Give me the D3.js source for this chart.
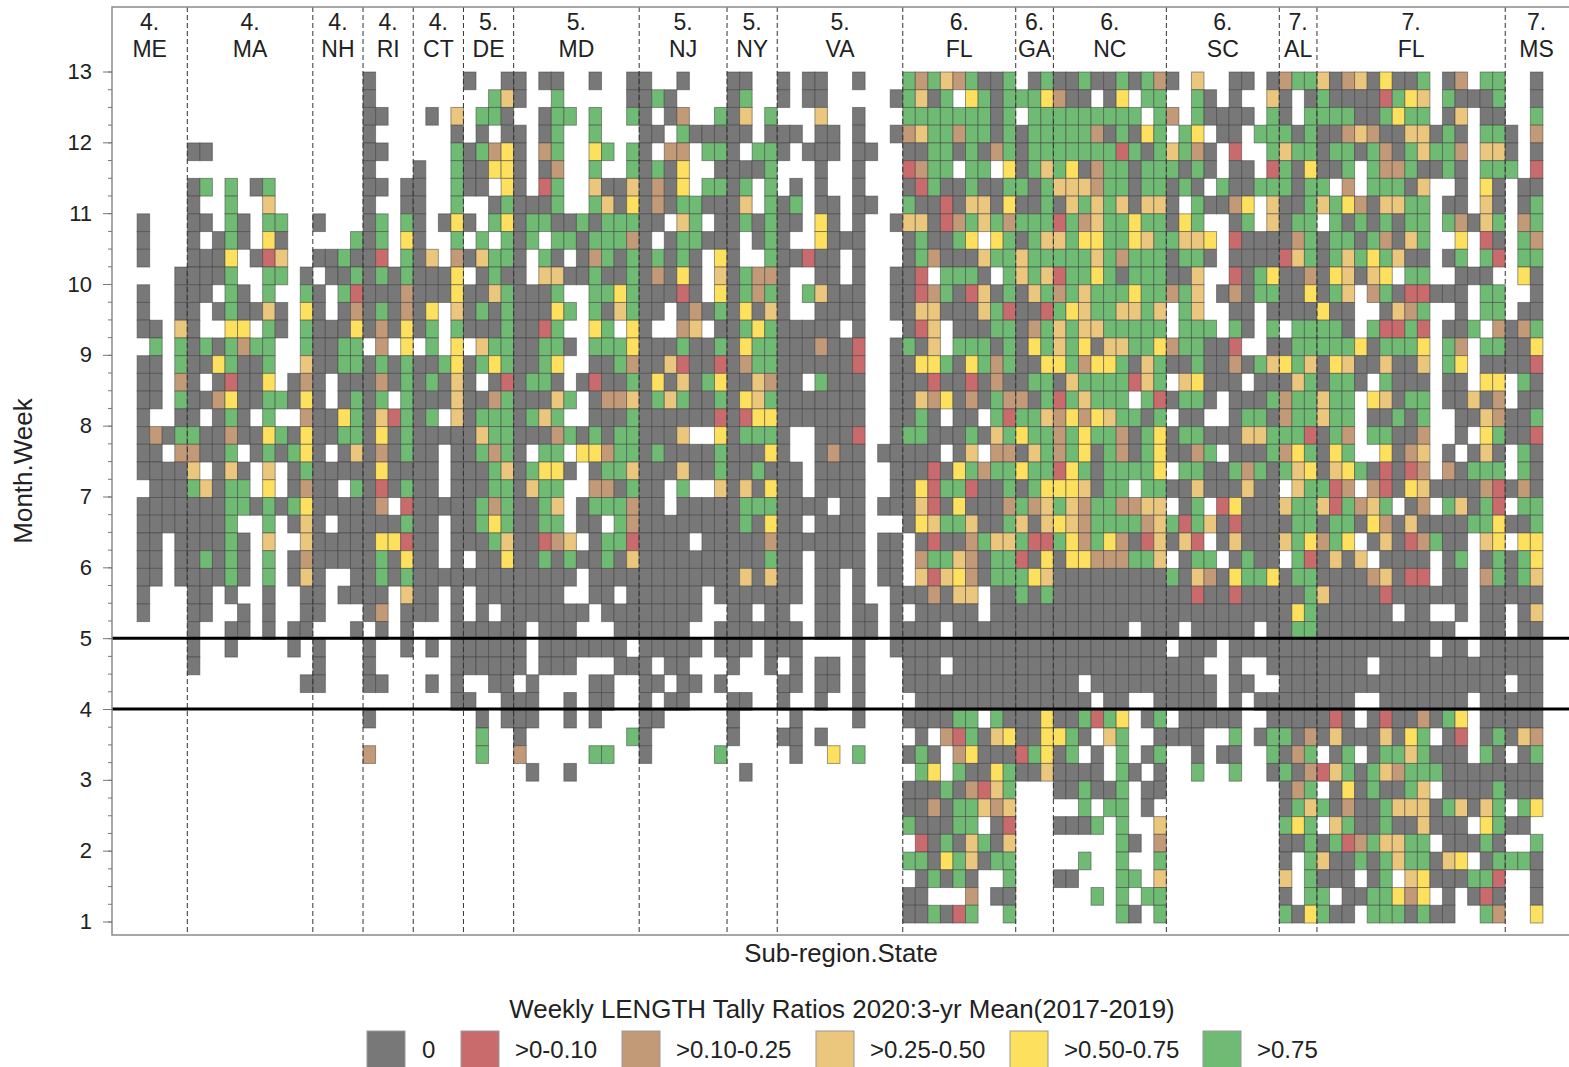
<!DOCTYPE html>
<html>
<head>
<meta charset="utf-8">
<script src="https://cdn.jsdelivr.net/npm/d3@7"></script>
<style>
  html, body { margin: 0; padding: 0; background: #fff; overflow: hidden; }
  text { font-family: "Liberation Sans", Arial, sans-serif; fill: #222; }
</style>
</head>
<body>
<div id="chart"></div>
<script>
var width = 1569, height = 1067;

// . = no data, 0-5 = index into binLabels. One string per week, top row is 13.
var groupNames = ["ME","MA","NH","RI","CT","DE","MD","NJ","NY","VA","FL","GA","NC","SC","AL","FL","MS"];
var groupRegions = ["4.","4.","4.","4.","4.","5.","5.","5.","5.","5.","6.","6.","6.","6.","7.","7.","7."];
var groupCols = [6,10,4,4,4,4,10,7,4,10,9,3,9,9,3,15,5];

var binLabels = ["0",">0-0.10",">0.10-0.25",">0.25-0.50",">0.50-0.75",">0.75"];
var binColors = ["#787878","#c96a6c","#c39a78","#ebc67d","#fde05e","#6fbb74"];
var legendX = [367,461,622,816,1010,1203];
var monthTicks = [1,2,3,4,5,6,7,8,9,10,11,12,13];
var refLines = [4,5];

// columns 2-22
var rowsA = [
"..................0..","..................0..","..................00.","..................0..",
"....00............00.","..................0..","....05.5.05.......00.","....0..5..3.......0..",
"0...00.50.55..0...05.","0...0.050.40.....505.","0...0004.013..005001.","...00005..55.0.005050",
"0..000.50.5..50.51000","0..00.050030.40.02050","00.30..44.50.50004020",".5.50505255..50055.2.",
"00.50045005..30055050","00.20.01004.020.00020","00.500240055040.0505.","0..00.050.5..20045031",
"020550020045040055040","00.22005.050540.03020","00003.030.3.050000040",".00053055.4.0200.5010",
"00000005505054000002.","00000005..5.030.00000","00.000050.3..30000044","00.005050.5.020000050",
"00.000050.5.030..0050","0...00.0..0..00.0000.","0...00..0.0..00...02.","....0..00.0.00...0.0.",
"....0..0....0.0...0..","....0.........0...0..",".............00...00.",".....................",
"..................0..",".....................","..................2..","....................."
];
// columns 23-52
var rowsB = [
".....0..00.00..0..00..0...00..",".......530..5.....0050....05..","..0.3.550..055.5..50.02..503.5","....0.0.00.05..5...00.500000.0",
"....505240.25..45.50.22.550.55",".0..500440.02..5..50504..00005","00..500.40.15..30030204.5505.5","00..5..050005..5304020550003.5",
"50.040.54055005055500.35.00505","40..5.5.505.55055520.055000.05","503.203550.50.0250505050.40..5","50004.0500.3300500502040.30522",
"2000400350005..554500010.40525","204.3050500045.503500.02050403","405.500050015..45.40..23.00545","4.5.4.35500550.555400050050455",
"5005405450054..005200310010255","505030.010550.0100504030540032","50003002500035.022305350050435","505.305550535..000500000010144",
"50000035500025050550003..40555","500.005250.55.4425505000050004","000.0005305440.055300030050050","500.000550355..220500.5..30304",
"1000005250053.0555200.00000555","500.005450055.00.5200000000504","100.0005300123.05510000.000002","400.0.004005050050300000000005",
"50000000000000.000000000000303","300.0.0000000..00.000000.00000","000.0.0.0000000.00000000..00.0","0...000000.000...000000..00000",
"0.0.000000.0000000.00000.000.0","....000000.000...000.00...0..0","..0.0..00.0....00..00.00.0....","....00..000..0.00..0.00...00..",
"......0.000..0.0...00.....0...","......5..0........50......0...","......5..2.....55..0.....5....","..........0..0.............0.."
];
// columns 53-83
var rowsC = [
"0.00..0...525325005.05005005052","0.00.....05305.4505554200.04.55","...3..0...555555505.555555555.5","00.00.0..0235525505055555205045",
"0.000.00..005505025055555551505","...0..0...1255.55.4053540255055",".0.0..0...015005005505333255055","05.00.00..500103304005035353033",
"00.40.0..0330125352555152355455","0..4000...050054.45053354455435","00100.0...052000355355555352555","0..00.0..001.5550.5353155450555",
"0.53000..0012501305035253555455","0..0000..0033000351001543553353","00000.0...013.00055025353355555","0002001..0503.55505045354033554",
"0000001..0044504525004452445035","00.5000..0001001020055035555135","0000000..0032402052205153555.51","0000000..0050.00.51553242435505",
"0..0001..0550005035455254552054","0..0200.00000.03.22035254052054","00.0000..0001045255455145055554","00.0000..0041551005054443055.55",
"0000.00.00031040002523532552233","00.0000...043553005303432555523","0000000.00.01002533511542542013","00.0000.00.25532055104044222553",
"00.00.0.00.31342055543000000000","00.00.0..0002033.00505000000000","0..00.00.0.00000.00000000000000","00.00.00.0000.00000000000000.00",
"00....0..0000000000000000000000",".0.00.0...000.00000000000000000","00.00.0...00000000000000.000000","0..0..0....00000000000000.00..0",
".0....0...000055.50004005154.05","00.0.......0.215034004450.35..0",".0..4.5...050.2400015405.0.5.05","...........54.500450030000.50.0",
"..........000502135...005005.00","..........002055323.....5.55.0.","..........500055.01...0005.5..3","...........10503503........50.2",
"..........550453055.....5..5..5","...........05050..5...00...55.3","..........00...2.00......5.5.55","..........005015..5........50.5"
];
// columns 84-113
var rowsD = [
"0.3..00.0255302304005.02.55..0","..50.0..30.0500001543.50005..0","2.50000.50.5555005455.03.00..5",".54.00.55505002320033050.550.2",
"3520.1..5355055052053552.330.0","5050.00.1504005.52250050.555.1","050.500555055.2.55503..0.40.00","0.50024.3005354203355.00.30.05",
"045..05.3055.50505055.52035.25","5334.1000025055052035..4.10.52","0550.0000135053545300.05.51.55","003..1054002043034.55..000..40",
"253.02055004053.25011000.55..0",".53..00.0000400..0325..0.55.00",".555.50.5.55550.51151.005.2025","255001..0055555405554.52.55004",
"005002053453043003003.54.00001",".34000.000350550.5000.00.44.50","0550.0005255355.43055.00302.00",".00..0550255355.00505..0032005",
"055000335551052.55002..0.45001","0025.0005245045..4023.0.030.50",".55005250534034501012.20555.50","003000300.35512.21043000021020",
".05.14000355315235.02.53051.55","515301000055055042030000554005","031.03000354254.03012500.34.44",".055.0500.510303.0000.05.05054",
"503204554055000023011.00.25053","001001000005300001000000.00000","000000000045000000.00..0.00.03","0.00000.005500000000000..00.00",
".000.0000000000000000.00.00000","000..0..00000000.0000000000000","0000.00..000000000000000000.00","0000.0.00000000..0000000.00000",
".00000..0000010.01002054.00000","000..5.05502030003045.01.05032","..0.00..5025.05.05535000.50.05","..5..5..0502135053255500000000",
".........025.04050053.00005000",".........053502005333053035.54",".........545.35005003000.4500.",".........005051253355.00050..5",
".........0.5300505355034.05550",".........3.5000.05.34000551..0",".........0.55.0055424.0.010..0",".........504500.5550500..52..4"
];

var segments = [
  {start: 2, rows: rowsA},
  {start: 23, rows: rowsB},
  {start: 53, rows: rowsC},
  {start: 84, rows: rowsD}
];

var cells = [];
segments.forEach(function(s) {
  s.rows.forEach(function(row, r) {
    row.split("").forEach(function(ch, i) {
      if (ch !== ".") cells.push({col: s.start + i, row: r, bin: +ch});
    });
  });
});

var svg = d3.select("#chart").append("svg")
    .attr("width", width)
    .attr("height", height)
    .style("display", "block");

var plotLeft = 112, plotRight = 1568, plotTop = 7, plotBottom = 935;

var x = d3.scaleLinear().domain([0, 116]).range([plotLeft, plotRight]);
var y = d3.scaleLinear().domain([1, 13]).range([921.5, 71.5]);
var rowY = d3.scaleBand().domain(d3.range(48)).range([72, 923]);

svg.append("g").selectAll("rect")
  .data(cells)
  .enter().append("rect")
    .attr("x", function(d) { return x(d.col); })
    .attr("y", function(d) { return rowY(d.row); })
    .attr("width", x(1) - x(0))
    .attr("height", rowY.bandwidth())
    .style("fill", function(d) { return binColors[d.bin]; })
    .style("stroke", "#3c3c3c")
    .style("stroke-opacity", 0.5)
    .style("stroke-width", 1);

// group separators
var edges = d3.cumsum(groupCols);
svg.append("g").selectAll("line")
  .data(edges.slice(0, -1))
  .enter().append("line")
    .attr("x1", function(d) { return x(d); })
    .attr("x2", function(d) { return x(d); })
    .attr("y1", plotTop)
    .attr("y2", plotBottom)
    .style("stroke", "#333")
    .style("stroke-width", 1)
    .style("stroke-dasharray", "5,3");

// reference lines
svg.append("g").selectAll("line")
  .data(refLines)
  .enter().append("line")
    .attr("x1", plotLeft)
    .attr("x2", plotRight + 1)
    .attr("y1", function(d) { return y(d); })
    .attr("y2", function(d) { return y(d); })
    .style("stroke", "#000")
    .style("stroke-width", 3);

// frame
svg.append("rect")
    .attr("x", plotLeft)
    .attr("y", plotTop)
    .attr("width", plotRight - plotLeft + 4)
    .attr("height", plotBottom - plotTop)
    .style("fill", "none")
    .style("stroke", "#8a8a8a")
    .style("stroke-width", 1.5);

// minor ticks every quarter, major on the whole months
var minorTicks = d3.range(1, 13.01, 0.25);
var minorAxis = d3.axisLeft(y).tickValues(minorTicks).tickSize(4).tickFormat("");
var gMinor = svg.append("g").attr("transform", "translate(" + plotLeft + ",0)").call(minorAxis);
gMinor.select(".domain").remove();
gMinor.selectAll("line").style("stroke", "#777");

var yAxis = d3.axisLeft(y).tickValues(monthTicks).tickSize(9).tickPadding(11).tickFormat(d3.format("d"));
var gY = svg.append("g").attr("transform", "translate(" + plotLeft + ",0)").call(yAxis);
gY.select(".domain").remove();
gY.selectAll("line").style("stroke", "#777");
gY.selectAll("text")
    .style("font-family", '"Liberation Sans", Arial, sans-serif')
    .style("font-size", "22px")
    .style("fill", "#222");

// group headers
var headers = svg.append("g").selectAll("g")
  .data(groupNames)
  .enter().append("g")
    .attr("transform", function(d, i) {
      return "translate(" + x(edges[i] - groupCols[i] / 2) + ",0)";
    });
headers.append("text")
    .attr("y", 30)
    .attr("text-anchor", "middle")
    .style("font-size", "23px")
    .text(function(d, i) { return groupRegions[i]; });
headers.append("text")
    .attr("y", 57)
    .attr("text-anchor", "middle")
    .style("font-size", "23px")
    .text(function(d) { return d; });

// axis titles
svg.append("text")
    .attr("x", 841)
    .attr("y", 962)
    .attr("text-anchor", "middle")
    .style("font-size", "25.8px")
    .text("Sub-region.State");
svg.append("text")
    .attr("transform", "translate(32,471) rotate(-90)")
    .attr("text-anchor", "middle")
    .style("font-size", "26px")
    .text("Month.Week");

// legend
svg.append("text")
    .attr("x", 842)
    .attr("y", 1018)
    .attr("text-anchor", "middle")
    .style("font-size", "25.9px")
    .text("Weekly LENGTH Tally Ratios 2020:3-yr Mean(2017-2019)");

var legend = svg.append("g").selectAll("g")
  .data(binLabels)
  .enter().append("g")
    .attr("transform", function(d, i) { return "translate(" + legendX[i] + ",1031)"; });
legend.append("rect")
    .attr("width", 38)
    .attr("height", 37)
    .style("fill", function(d, i) { return binColors[i]; })
    .style("stroke", "#999")
    .style("stroke-width", 1);
legend.append("text")
    .attr("x", function(d, i) { return i === 0 ? 55 : 54; })
    .attr("y", 27)
    .style("font-size", "24px")
    .text(function(d) { return d; });
</script>
</body>
</html>
